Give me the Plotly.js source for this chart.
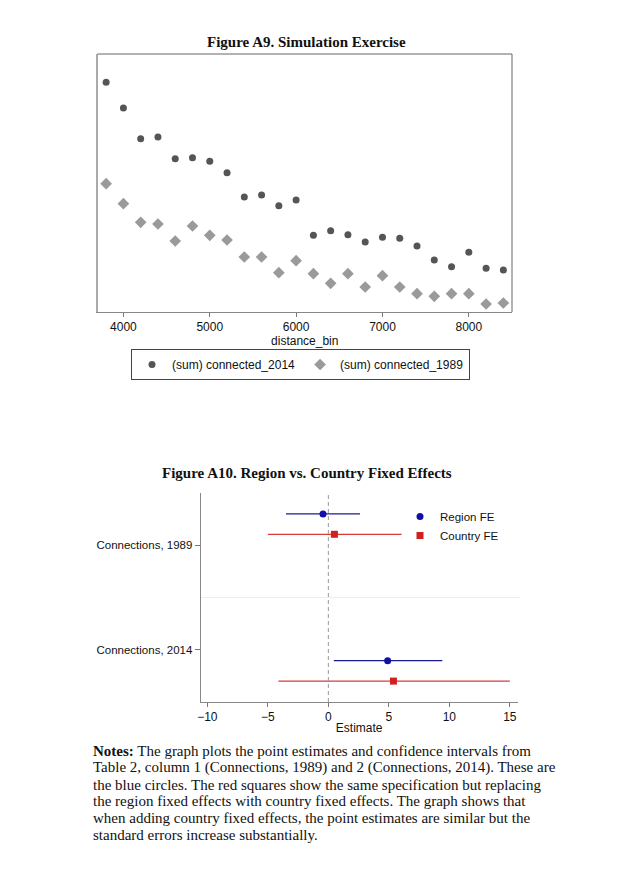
<!DOCTYPE html>
<html>
<head>
<meta charset="utf-8">
<script src="https://cdn.plot.ly/plotly-3.0.1.min.js"></script>
<style>html,body{margin:0;padding:0;background:#fff;}#chart{width:625px;height:889px;}</style>
</head>
<body>
<div id="chart"></div>
<script>
// ---- Figure A9 data ----
const distanceBin = [3800,4000,4200,4400,4600,4800,5000,5200,5400,5600,5800,6000,6200,6400,6600,6800,7000,7200,7400,7600,7800,8000,8200,8400];
const connected2014 = [2297,2040,1733,1750,1533,1543,1507,1393,1150,1170,1063,1120,767,813,773,700,747,737,660,520,453,597,437,420];
const connected1989 = [1283,1083,897,880,710,860,767,720,550,550,393,513,383,287,383,250,363,250,183,157,183,183,80,90];
const xTicks9 = [4000,5000,6000,7000,8000];

// ---- Figure A10 data ----
const coefLabels = ["Connections, 1989","Connections, 2014"];
const coefPos = [1, 2];
const regionEst = [-0.44, 4.90];
const regionLo = [-3.50, 0.45];
const regionHi = [2.62, 9.42];
const countryEst = [0.50, 5.38];
const countryLo = [-5.00, -4.13];
const countryHi = [6.06, 15.00];
const xTicks10 = [-10,-5,0,5,10,15];

// ---- Notes ----
const noteLines = [
  "<b>Notes:</b> The graph plots the point estimates and confidence intervals from",
  "Table 2, column 1 (Connections, 1989) and 2 (Connections, 2014). These are",
  "the blue circles. The red squares show the same specification but replacing",
  "the region fixed effects with country fixed effects. The graph shows that",
  "when adding country fixed effects, the point estimates are similar but the",
  "standard errors increase substantially."
];

const W = 625, H = 889;
const px = v => v / W;
const py = v => 1 - v / H;

// offsets of the coefficient rows within each category band (layout)
const regionOff = [-0.30, 0.105];
const countryOff = [-0.105, 0.30];

const sans = "Liberation Sans, Arial, sans-serif";
const serif = "Liberation Serif, Times New Roman, serif";

const traces = [
  {x: distanceBin, y: connected2014, type: 'scatter', mode: 'markers', name: '(sum) connected_2014',
   marker: {symbol: 'circle', size: 7, color: '#555555'}, xaxis: 'x', yaxis: 'y', legend: 'legend'},
  {x: distanceBin, y: connected1989, type: 'scatter', mode: 'markers', name: '(sum) connected_1989',
   marker: {symbol: 'diamond', size: 9, color: '#9a9a9a'}, xaxis: 'x', yaxis: 'y', legend: 'legend'},
  {x: regionEst, y: coefPos.map((p,i)=>p+regionOff[i]), type: 'scatter', mode: 'markers', name: 'Region FE',
   marker: {symbol: 'circle', size: 7, color: '#1010a8'},
   error_x: {type: 'data', symmetric: false, array: regionHi.map((h,i)=>h-regionEst[i]), arrayminus: regionEst.map((e,i)=>e-regionLo[i]), width: 0, thickness: 1.2, color: '#1c1c8c'},
   xaxis: 'x2', yaxis: 'y2', legend: 'legend2'},
  {x: countryEst, y: coefPos.map((p,i)=>p+countryOff[i]), type: 'scatter', mode: 'markers', name: 'Country FE',
   marker: {symbol: 'square', size: 7, color: '#d02020'},
   error_x: {type: 'data', symmetric: false, array: countryHi.map((h,i)=>h-countryEst[i]), arrayminus: countryEst.map((e,i)=>e-countryLo[i]), width: 0, thickness: 1.2, color: '#d83a3a'},
   xaxis: 'x2', yaxis: 'y2', legend: 'legend2'}
];

const annotations = [
  {text: '<b>Figure A9. Simulation Exercise</b>', xref: 'paper', yref: 'paper', x: px(306), y: py(42), xanchor: 'center', yanchor: 'middle', showarrow: false, font: {family: serif, size: 15, color: '#111'}},
  {text: '<b>Figure A10. Region vs. Country Fixed Effects</b>', xref: 'paper', yref: 'paper', x: px(307), y: py(473), xanchor: 'center', yanchor: 'middle', showarrow: false, font: {family: serif, size: 15, color: '#111'}}
];
noteLines.forEach((t, i) => {
  annotations.push({text: t, xref: 'paper', yref: 'paper', x: px(91), y: py(751 + i * 16.8), xanchor: 'left', yanchor: 'middle', align: 'left', showarrow: false, font: {family: serif, size: 15, color: '#111'}});
});

const layout = {
  width: W, height: H,
  margin: {l: 0, r: 0, t: 0, b: 0},
  paper_bgcolor: '#fff', plot_bgcolor: '#fff',
  showlegend: true,
  xaxis: {domain: [px(97.5), px(512)], range: [3700, 8500], tickvals: xTicks9, ticks: 'outside', ticklen: 4, tickcolor: '#777',
          showline: true, linecolor: '#888', linewidth: 1, showgrid: false, zeroline: false,
          tickfont: {family: sans, size: 12, color: '#111'},
          title: {text: 'distance_bin', font: {family: sans, size: 12, color: '#111'}, standoff: 0}, anchor: 'y'},
  yaxis: {domain: [py(312), py(54)], range: [0, 2580], showticklabels: false, ticks: '', showgrid: false, zeroline: false,
          showline: true, linecolor: '#aaaaaa', linewidth: 2, anchor: 'x'},
  xaxis2: {domain: [px(200.7), px(517.7)], range: [-10.55, 15.65], tickvals: xTicks10, ticks: 'outside', ticklen: 4, tickcolor: '#777',
           showline: true, linecolor: '#888', linewidth: 1, showgrid: false, zeroline: false,
           tickfont: {family: sans, size: 12, color: '#111'},
           title: {text: 'Estimate', font: {family: sans, size: 12, color: '#111'}, standoff: 0}, anchor: 'y2'},
  yaxis2: {domain: [py(702), py(493)], range: [2.5, 0.5], tickvals: coefPos, ticktext: coefLabels, ticks: 'outside', ticklen: 5, tickcolor: '#777',
           showline: true, linecolor: '#888', linewidth: 1, showgrid: false, zeroline: false,
           tickfont: {family: sans, size: 11.5, color: '#111'}, anchor: 'x2'},
  legend: {orientation: 'h', x: px(131), y: py(349), xanchor: 'left', yanchor: 'top', bordercolor: '#444', borderwidth: 1, bgcolor: '#fff',
           font: {family: sans, size: 12, color: '#111'}, itemwidth: 30, tracegroupgap: 0},
  legend2: {orientation: 'v', x: px(400), y: py(502), xanchor: 'left', yanchor: 'top', bgcolor: 'rgba(0,0,0,0)', borderwidth: 0,
            font: {family: sans, size: 11.5, color: '#111'}, itemwidth: 30, tracegroupgap: 0},
  shapes: [
    // top and right frame of Figure A9
    {type: 'line', xref: 'x domain', yref: 'y domain', x0: 0, x1: 1, y0: 1, y1: 1, line: {color: '#666', width: 1}},
    {type: 'line', xref: 'x domain', yref: 'y domain', x0: 1, x1: 1, y0: 0, y1: 1, line: {color: '#666', width: 1}},
    // zero reference line
    {type: 'line', xref: 'x2', yref: 'y2 domain', x0: 0, x1: 0, y0: 0, y1: 1, line: {color: '#999', width: 1, dash: '4px,3px'}},
    // separator between coefficient groups
    {type: 'line', xref: 'paper', yref: 'y2', x0: px(201), x1: px(520), y0: 1.5, y1: 1.5, line: {color: '#eeeeee', width: 1}}
  ],
  annotations: annotations
};

Plotly.newPlot('chart', traces, layout, {displayModeBar: false, staticPlot: true});
</script>
</body>
</html>
